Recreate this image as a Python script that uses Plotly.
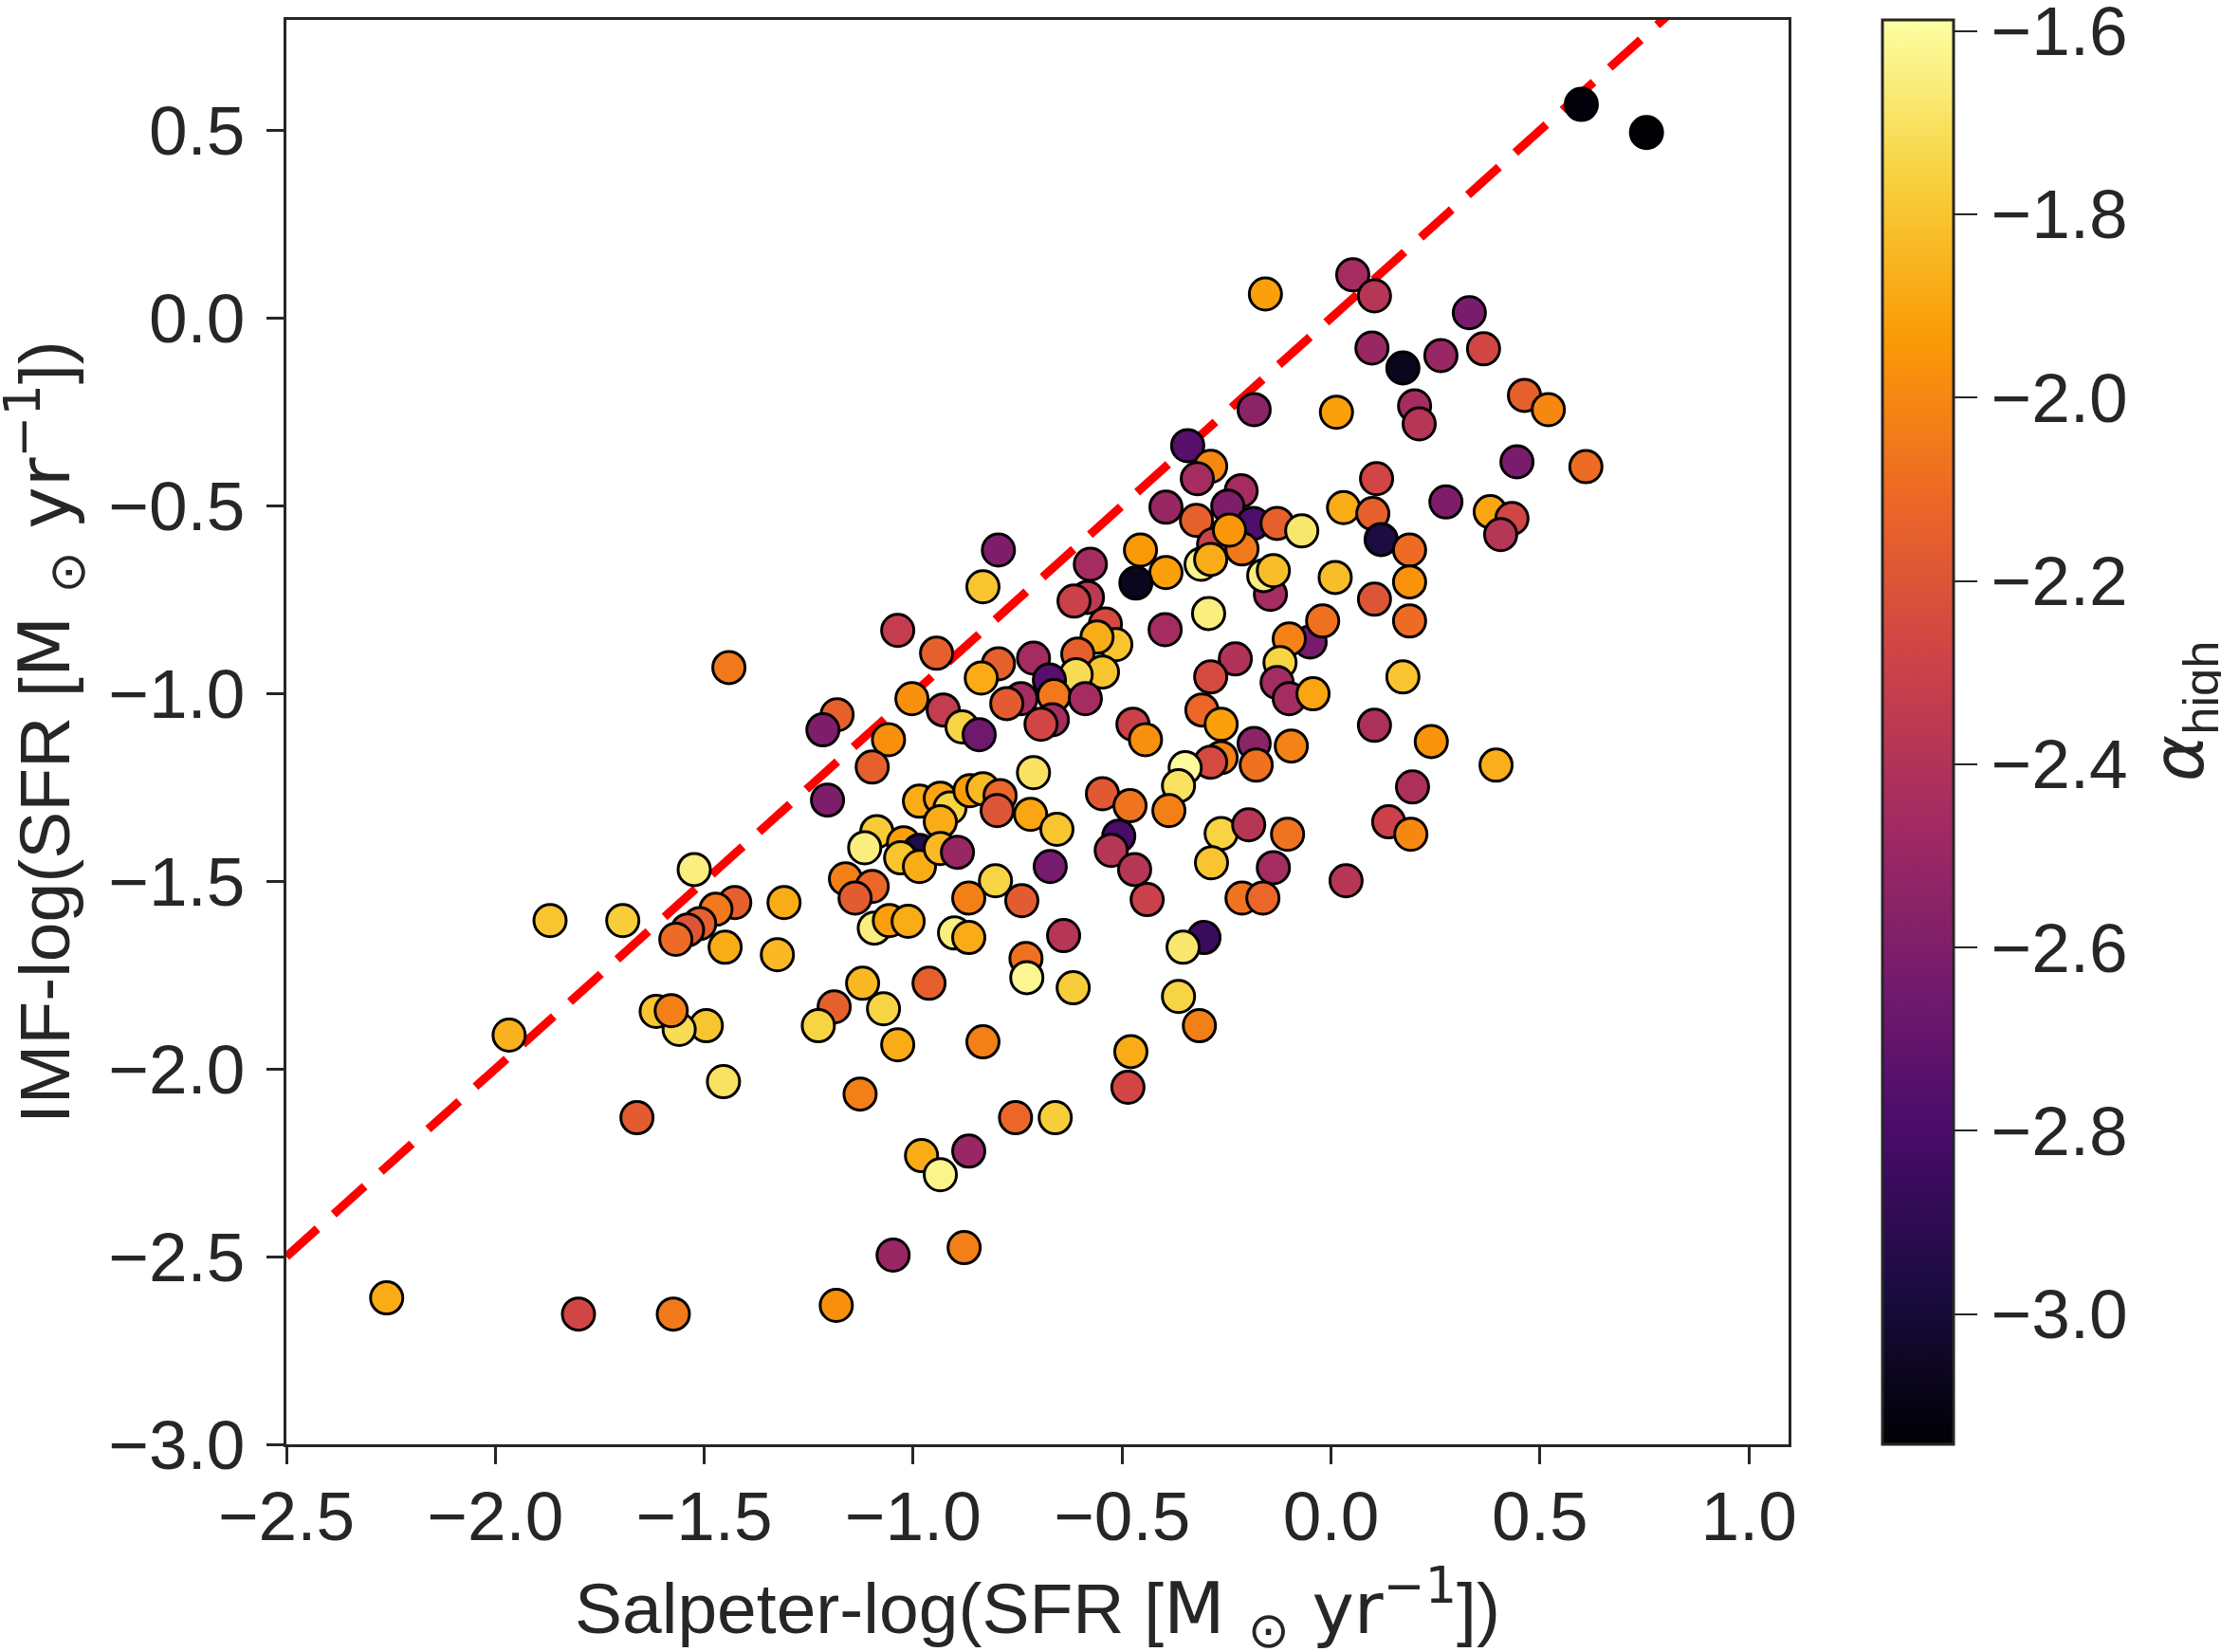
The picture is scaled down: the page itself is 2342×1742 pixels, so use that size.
import plotly.graph_objects as go

# Salpeter-log(SFR), IMF-log(SFR), alpha_high
sal_sfr = [0.599, 0.755, -0.157, 0.052, 0.104, 0.331, 0.098, 0.172, 0.263, 0.365,
           0.463, 0.520, 0.200, 0.211, 0.445, 0.610, 0.109, 0.013, -0.184, -0.343,
           -0.288, -0.320, -0.215, 0.275, 0.381, 0.433, 0.406, 0.030, 0.100, 0.120,
           0.188, 0.188, 0.104, 0.188, 0.010, 0.172, 0.104, 0.240, 0.395, 0.195,
           0.138, 0.191, 0.036,
           -0.395, -0.322, -0.247, -0.186, -0.129, -0.070, -0.456, -0.395, -0.467, -0.576,
           -0.583, -0.615, -0.281, -0.311, -0.288, -0.213, -0.243, -0.145, -0.161, -0.138,
           -0.293, -0.397, -0.540, -0.515, -0.560, -0.606, -0.547, -0.610, -0.712, -0.674,
           -0.663, -0.588, -0.742, -0.667, -0.694, -0.229, -0.288, -0.050, -0.020, -0.100,
           -0.122, -0.129, -0.100, -0.043, -0.309, -0.263, -0.474, -0.444, -0.184, -0.095,
           -0.179, -0.263, -0.288, -0.349, -0.365, -0.388, -0.712, -0.547, -0.481, -0.719,
           -0.656, -0.508, -0.526, -0.470, -0.440, -0.672, -0.740, -0.263, -0.197, -0.104,
           -0.286, -0.138, -0.213, -0.163,
           -0.796, -0.833, -1.037, -0.944, -1.441, -0.796, -0.837, -0.776, -1.003, -0.928,
           -0.883, -0.842, -1.182, -1.216, -1.059, -1.098, -1.205, -1.524, -0.985, -0.935,
           -0.912, -0.864, -0.833, -0.792, -0.799, -0.935, -1.087, -1.116, -1.023, -0.985,
           -1.030, -0.985, -0.935, -0.894, -1.162, -1.098, -1.139, -1.309, -1.427, -1.472,
           -0.803, -0.867,
           -1.511, -1.540, -1.450, -1.325, -1.093, -1.057, -1.012, -0.901, -0.867, -1.121,
           -1.189, -1.227, -1.071, -1.037, -0.962, -0.833, -1.127, -1.454, -1.495, -1.560,
           -0.980, -0.935, -0.867, -0.755, -1.048, -0.878, -1.184,
           -0.640, -0.730, -0.728, -0.617, -0.304, -0.354, -0.365, -0.315, -0.479, -0.486,
           -0.660,
           -1.869, -1.695, -1.568, -1.967, -1.615, -1.579, -1.661, -2.260, -1.801, -1.574]

imf_sfr = [0.569, 0.494, 0.064, 0.115, 0.059, 0.014, -0.080, -0.133, -0.100, -0.082,
           -0.206, -0.244, -0.234, -0.282, -0.383, -0.396, -0.428, -0.251, -0.244, -0.340,
           -0.395, -0.428, -0.460, -0.490, -0.516, -0.534, -0.577, -0.505, -0.521, -0.590,
           -0.618, -0.703, -0.749, -0.807, -0.691, -0.956, -1.085, -1.128, -1.191, -1.249,
           -1.342, -1.375, -1.499,
           -0.504, -0.539, -0.501, -0.547, -0.547, -0.567, -0.618, -0.678, -0.706, -0.656,
           -0.744, -0.754, -0.603, -0.656, -0.643, -0.615, -0.565, -0.736, -0.686, -0.673,
           -0.787, -0.830, -0.815, -0.870, -0.850, -0.895, -0.943, -0.950, -0.906, -0.964,
           -1.006, -1.014, -1.014, -1.070, -1.082, -0.908, -0.956, -0.863, -0.807, -0.855,
           -0.918, -0.971, -1.014, -1.001, -1.044, -1.082, -1.082, -1.123, -1.133, -1.140,
           -1.191, -1.171, -1.183, -1.198, -1.246, -1.312, -1.211, -1.267, -1.299, -1.322,
           -1.362, -1.380, -1.418, -1.469, -1.549, -1.461, -1.552, -1.373, -1.350, -1.375,
           -1.451, -1.464, -1.545, -1.545,
           -0.618, -0.716, -0.832, -0.893, -0.931, -0.921, -0.959, -1.027, -1.014, -1.044,
           -1.089, -1.110, -1.057, -1.097, -1.123, -1.196, -1.284, -1.469, -1.287, -1.279,
           -1.305, -1.259, -1.254, -1.272, -1.312, -1.342, -1.368, -1.411, -1.398, -1.418,
           -1.438, -1.461, -1.413, -1.423, -1.494, -1.514, -1.545, -1.557, -1.557, -1.575,
           -1.499, -1.545,
           -1.613, -1.630, -1.676, -1.696, -1.625, -1.605, -1.607, -1.638, -1.650, -1.772,
           -1.835, -1.885, -1.840, -1.936, -1.772, -1.928, -2.067, -2.034, -1.885, -1.895,
           -2.231, -2.282, -2.219, -2.130, -2.496, -2.476, -2.630,
           -1.645, -1.706, -1.757, -1.784, -1.650, -1.676, -1.807, -1.885, -1.954, -2.049,
           -2.130,
           -1.605, -1.605, -1.655, -1.910, -1.847, -1.845, -2.130, -2.610, -2.653, -2.653]

alpha_high = [-3.12, -3.14, -1.92, -2.45, -2.38, -2.62, -2.50, -3.07, -2.50, -2.27,
              -2.15, -2.00, -2.45, -2.38, -2.62, -2.10, -2.27, -1.92, -2.55, -2.75,
              -2.00, -2.45, -2.45, -2.60, -1.90, -2.27, -2.38, -1.88, -2.15, -2.97,
              -2.10, -1.96, -2.20, -2.10, -1.82, -1.80, -2.42, -1.96, -1.87, -2.42,
              -2.30, -2.00, -2.38,
              -2.50, -2.15, -2.60, -2.78, -2.15, -1.68, -1.94, -1.92, -3.07, -2.45,
              -2.36, -2.30, -2.30, -1.63, -1.88, -2.05, -1.95, -2.45, -1.65, -1.82,
              -1.65, -2.45, -2.25, -1.80, -1.88, -2.15, -1.80, -1.72, -2.45, -2.75,
              -2.05, -2.45, -2.45, -2.45, -2.27, -2.40, -2.25, -2.63, -2.08, -2.02,
              -1.75, -2.45, -2.45, -1.90, -2.12, -1.92, -2.30, -1.97, -2.55, -2.02,
              -2.08, -2.02, -2.25, -1.60, -1.70, -2.03, -1.70, -2.18, -2.07, -1.90,
              -1.80, -2.80, -2.38, -2.38, -2.30, -2.63, -2.17, -1.75, -2.38, -2.07,
              -1.80, -2.45, -2.07, -2.12,
              -2.60, -1.80, -2.33, -2.15, -2.05, -2.15, -1.88, -2.17, -1.97, -2.33,
              -1.75, -2.66, -2.15, -2.60, -1.97, -2.15, -2.60, -1.65, -1.88, -1.90,
              -1.75, -1.93, -1.84, -2.12, -2.20, -1.88, -1.78, -1.65, -1.92, -2.95,
              -1.80, -1.88, -1.84, -2.50, -2.03, -2.12, -2.17, -1.88, -2.15, -2.05,
              -1.75, -2.03,
              -2.15, -2.20, -1.88, -1.84, -1.65, -1.92, -1.88, -1.65, -1.88, -1.84,
              -2.15, -1.75, -1.75, -1.88, -2.15, -2.03, -2.03, -1.70, -1.80, -1.72,
              -1.88, -1.63, -2.50, -2.12, -2.50, -2.03, -1.97,
              -2.38, -2.08, -1.62, -1.77, -2.85, -1.68, -1.75, -2.03, -1.88, -2.27,
              -1.77,
              -1.80, -1.77, -2.10, -1.86, -1.80, -2.03, -2.17, -1.88, -2.27, -2.05]

one_to_one = [-2.5, 1.1]
x_ticks = [-2.5, -2.0, -1.5, -1.0, -0.5, 0.0, 0.5, 1.0]
y_ticks = [-3.0, -2.5, -2.0, -1.5, -1.0, -0.5, 0.0, 0.5]
cb_ticks = [-3.0, -2.8, -2.6, -2.4, -2.2, -2.0, -1.8, -1.6]

FONT = "Liberation Sans, Arial, sans-serif"
MATH = "font-family:'DejaVu Sans'"
DARK = "#262626"
FS = 73
FT = 75

unit = (f"<span style=\"{MATH}\">M </span><sub><span style=\"{MATH}\">⊙</span></sub>"
        f"<span style=\"{MATH}\"> yr</span><sup><span style=\"{MATH}\">−1</span></sup>")
xlabel = f"Salpeter-log(SFR [{unit}])"
ylabel = f"IMF-log(SFR [{unit}])"
cblabel = f"<span style=\"{MATH}\"><i>α</i></span><sub>high</sub>"

fig = go.Figure()
fig.add_trace(go.Scatter(
    x=one_to_one, y=one_to_one, mode="lines",
    line=dict(color="#ff0000", width=9, dash="44px,23px"),
    showlegend=False, hoverinfo="skip"))
fig.add_trace(go.Scatter(
    x=sal_sfr, y=imf_sfr, mode="markers",
    marker=dict(size=34, color=alpha_high, colorscale="Inferno",
                cmin=-3.142, cmax=-1.588,
                line=dict(color="black", width=3),
                colorbar=dict(
                    x=1.0625, xanchor="left", xref="paper", xpad=0,
                    y=0.5, yanchor="middle", ypad=0,
                    len=1.0, lenmode="fraction",
                    thickness=75, thicknessmode="pixels",
                    outlinewidth=3, outlinecolor=DARK,
                    tickmode="array", tickvals=cb_ticks, tickformat=".1f",
                    ticks="outside", ticklen=24, tickwidth=2, tickcolor=DARK,
                    ticklabeloverflow="allow",
                    tickfont=dict(family=FONT, size=FS, color=DARK),
                )),
    showlegend=False))

fig.update_layout(
    width=2342, height=1742,
    margin=dict(l=302, r=456, t=21, b=219),
    paper_bgcolor="white", plot_bgcolor="white",
    font=dict(family=FONT, size=FS, color=DARK),
    xaxis=dict(range=[-2.5, 1.095], tickmode="array", tickvals=x_ticks, tickformat=".1f",
               showgrid=False, zeroline=False, showline=True, mirror=True,
               linecolor=DARK, linewidth=3, ticks="outside", ticklen=18, tickwidth=3,
               tickcolor=DARK, tickfont=dict(family=FONT, size=FS, color=DARK),
               ticklabelstandoff=-8),
    yaxis=dict(range=[-3.0, 0.794], tickmode="array", tickvals=y_ticks, tickformat=".1f",
               showgrid=False, zeroline=False, showline=True, mirror=True,
               linecolor=DARK, linewidth=3, ticks="outside", ticklen=18, tickwidth=3,
               tickcolor=DARK, tickfont=dict(family=FONT, size=FS, color=DARK),
               ticklabelstandoff=8),
    annotations=[
        dict(text=xlabel,
             xref="paper", yref="paper", x=0.5, y=-0.1145,
             xanchor="center", yanchor="middle", showarrow=False,
             font=dict(family=FONT, size=FT, color=DARK)),
        dict(text=ylabel,
             xref="paper", yref="paper", x=-0.161, y=0.5, textangle=-90,
             xanchor="center", yanchor="middle", showarrow=False,
             font=dict(family=FONT, size=FT, color=DARK)),
        dict(text=cblabel,
             xref="paper", yref="paper", x=1.2625, y=0.515, textangle=-90,
             xanchor="center", yanchor="middle", showarrow=False,
             font=dict(family=FONT, size=FT, color=DARK)),
    ],
)

fig.write_html("out.html")
